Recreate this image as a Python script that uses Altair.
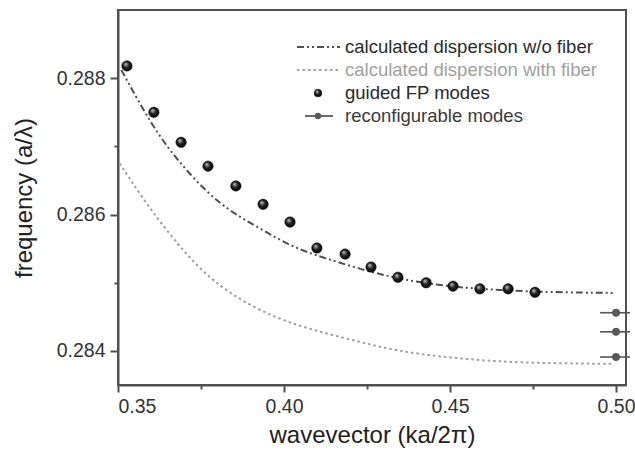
import altair as alt
import pandas as pd

# ---------------- data ----------------
# calculated dispersion w/o fiber
wo_k = [0.3510, 0.3605, 0.3678, 0.3768, 0.3846, 0.3937, 0.4027, 0.4117, 0.4229, 0.4349, 0.4500, 0.4651, 0.4801, 0.4995]
wo_f = [0.28812, 0.28728, 0.28680, 0.28632, 0.28602, 0.28577, 0.28552, 0.28537, 0.28520, 0.28505, 0.28494, 0.28489, 0.28486, 0.28485]

# calculated dispersion with fiber
w_k = [0.3505, 0.3578, 0.3660, 0.3747, 0.3846, 0.3979, 0.4099, 0.4229, 0.4349, 0.4500, 0.4651, 0.4801, 0.4995]
w_f = [0.28675, 0.28621, 0.28568, 0.28519, 0.28480, 0.28447, 0.28429, 0.28413, 0.28399, 0.28390, 0.28384, 0.28382, 0.28381]

# guided FP modes
fp_k = [0.3527, 0.3608, 0.3690, 0.3771, 0.3855, 0.3937, 0.4018, 0.4099, 0.4184, 0.4262, 0.4343, 0.4428, 0.4509, 0.4590, 0.4675, 0.4756]
fp_f = [0.28818, 0.28750, 0.28706, 0.28671, 0.28642, 0.28615, 0.28589, 0.28551, 0.28542, 0.28523, 0.28508, 0.28500, 0.28495, 0.28491, 0.28491, 0.28486]

# reconfigurable modes (with horizontal error bars)
rc_k = [0.500, 0.500, 0.500]
rc_f = [0.28456, 0.28428, 0.28391]
rc_lo = [0.4952, 0.4952, 0.4952]
rc_hi = [0.5042, 0.5042, 0.5042]

x_ticks = [0.35, 0.375, 0.40, 0.425, 0.45, 0.475, 0.50]
y_ticks = [0.284, 0.285, 0.286, 0.287, 0.288]

legend_labels = [
    "calculated dispersion w/o fiber",
    "calculated dispersion with fiber",
    "guided FP modes",
    "reconfigurable modes",
]

# ---------------- tables ----------------
wo_df = pd.DataFrame({"k": wo_k, "f": wo_f})
w_df = pd.DataFrame({"k": w_k, "f": w_f})
fp_df = pd.DataFrame({"k": fp_k, "f": fp_f})
rc_df = pd.DataFrame({"k": rc_k, "f": rc_f, "lo": rc_lo, "hi": rc_hi})

FONT = "Liberation Sans"
AX = "#505050"

xscale = alt.Scale(domain=[0.35, 0.503], nice=False, zero=False)
yscale = alt.Scale(domain=[0.2835, 0.289], nice=False, zero=False)

xaxis = alt.Axis(
    values=x_ticks,
    labelExpr="(round(datum.value*1000) % 50 == 0) ? format(datum.value, '.2f') : ''",
    tickSize={"condition": {"test": "round(datum.value*1000) % 50 == 0", "value": 7}, "value": 4},
    tickWidth=2, tickColor=AX, domainColor=AX, domainWidth=2,
    grid=False, labelFont=FONT, labelFontSize=19.5, labelColor="#333",
    labelPadding=5, titleFont=FONT, titleFontSize=24, titleFontWeight="normal",
    titleColor="#222", titlePadding=8,
)
yaxis = alt.Axis(
    values=y_ticks,
    labelExpr="(round(datum.value*1000) % 2 == 0) ? format(datum.value, '.3f') : ''",
    tickSize={"condition": {"test": "round(datum.value*1000) % 2 == 0", "value": 8}, "value": 4},
    tickWidth=2, tickColor=AX, domainColor=AX, domainWidth=2,
    grid=False, labelFont=FONT, labelFontSize=19.5, labelColor="#333",
    labelPadding=5, titleFont=FONT, titleFontSize=24, titleFontWeight="normal",
    titleColor="#222", titlePadding=20,
)

XT = "wavevector (ka/2π)"
YT = "frequency (a/λ)"

def X(field):
    return alt.X(f"{field}:Q", scale=xscale, axis=xaxis, title=XT)

def Y(field):
    return alt.Y(f"{field}:Q", scale=yscale, axis=yaxis, title=YT)

WO_DASH = [7, 3, 2, 3, 2, 3]
W_DASH = [2.5, 3]
WO_COL = "#505050"
W_COL = "#a89c9c"

wo_line = alt.Chart(wo_df).mark_line(
    color=WO_COL, strokeDash=WO_DASH, strokeWidth=2, interpolate="basis"
).encode(x=X("k"), y=Y("f"))

w_line = alt.Chart(w_df).mark_line(
    color=W_COL, strokeDash=W_DASH, strokeWidth=2, interpolate="basis"
).encode(x=X("k"), y=Y("f"))

sphere = alt.RadialGradient(
    gradient="radial",
    stops=[
        alt.GradientStop(color="#d0d0d0", offset=0),
        alt.GradientStop(color="#222222", offset=0.5),
        alt.GradientStop(color="#000000", offset=1),
    ],
    x1=0.35, y1=0.3, r1=0, x2=0.5, y2=0.5, r2=0.55,
)

rc_bars = alt.Chart(rc_df).mark_rule(color="#555", strokeWidth=1.6).encode(
    x=X("lo"), x2="hi", y=Y("f")
)
rc_pts = alt.Chart(rc_df).mark_point(
    filled=True, fill="#5a5a5a", stroke="#444", strokeWidth=0.5, size=55, opacity=1
).encode(x=X("k"), y=Y("f"))

fp_pts = alt.Chart(fp_df).mark_point(
    filled=True, fill=sphere, stroke="#111", strokeWidth=0.5, size=110, opacity=1
).encode(x=X("k"), y=Y("f"))

# ---------------- legend (drawn manually, plot-area pixel offsets) ----------------
leg_y = [37, 60, 83, 106]
leg_col = ["#2a2a2a", "#a0a0a0", "#2a2a2a", "#3a3a3a"]
TX = 227
leg_layers = []
for i, lab in enumerate(legend_labels):
    leg_layers.append(
        alt.Chart(pd.DataFrame({"t": [lab]})).mark_text(
            align="left", baseline="middle", font=FONT, fontSize=18.5, color=leg_col[i]
        ).encode(x=alt.value(TX), y=alt.value(leg_y[i]), text="t:N")
    )
dummy = pd.DataFrame({"t": [0]})
leg_layers += [
    alt.Chart(dummy).mark_rule(color=WO_COL, strokeDash=WO_DASH, strokeWidth=2).encode(
        x=alt.value(179), x2=alt.value(222), y=alt.value(leg_y[0])),
    alt.Chart(dummy).mark_rule(color=W_COL, strokeDash=W_DASH, strokeWidth=2).encode(
        x=alt.value(179), x2=alt.value(222), y=alt.value(leg_y[1])),
    alt.Chart(dummy).mark_point(filled=True, fill=sphere, stroke="#111", strokeWidth=0.5,
                                size=60, opacity=1).encode(
        x=alt.value(200), y=alt.value(leg_y[2])),
    alt.Chart(dummy).mark_rule(color="#444", strokeWidth=1.6).encode(
        x=alt.value(187), x2=alt.value(215), y=alt.value(leg_y[3])),
    alt.Chart(dummy).mark_point(filled=True, fill="#5a5a5a", size=40, opacity=1).encode(
        x=alt.value(200), y=alt.value(leg_y[3])),
]

chart = alt.layer(w_line, wo_line, rc_bars, rc_pts, fp_pts, *leg_layers).properties(
    width=508, height=375,
    autosize=alt.AutoSizeParams(type="none"),
    padding={"left": 118, "top": 10, "right": 9, "bottom": 70},
    background="white",
).configure_view(stroke=AX, strokeWidth=2)

chart.save("out.html", embed_options={"renderer": "svg", "actions": False})
